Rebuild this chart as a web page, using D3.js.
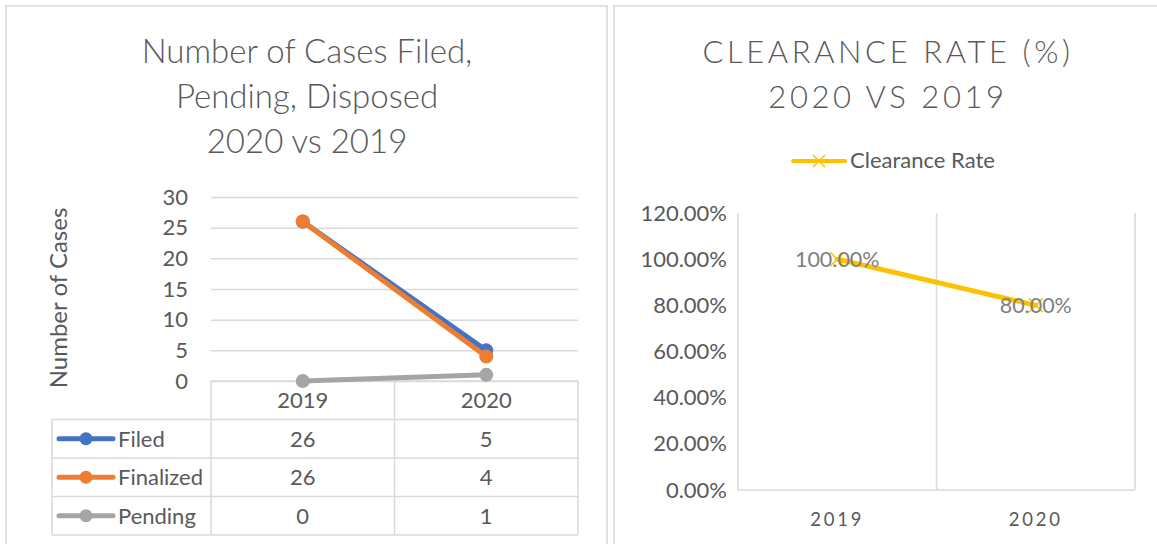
<!DOCTYPE html>
<html>
<head>
<meta charset="utf-8">
<script src="https://d3js.org/d3.v7.min.js"></script>
<style>
  body { margin:0; background:#fff; }
  text { font-family: Lato, "Open Sans", sans-serif; fill:#595959; }
  .title { font-weight:300; }
</style>
</head>
<body>
<svg id="chart"></svg>
<script>
// data
var years = ["2019", "2020"];
var filed = [26, 5];
var finalized = [26, 4];
var pending = [0, 1];
var clearance = [1.00, 0.80];
var caseTicks = [0, 5, 10, 15, 20, 25, 30];
var rateTicks = [0, 0.2, 0.4, 0.6, 0.8, 1.0, 1.2];

var series = [
  {name:"Filed", values:filed, color:"#4472C4"},
  {name:"Finalized", values:finalized, color:"#ED7D31"},
  {name:"Pending", values:pending, color:"#A5A5A5"}
];

var svg = d3.select("#chart").attr("width", 1157).attr("height", 544);
var grid = "#d9d9d9";
var fs = "22px";

// panel frames
svg.append("rect").attr("x",6).attr("y",6).attr("width",601).attr("height",560)
  .attr("fill","none").attr("stroke",grid).attr("stroke-width",1.5);
svg.append("rect").attr("x",614).attr("y",6).attr("width",560).attr("height",560)
  .attr("fill","none").attr("stroke",grid).attr("stroke-width",1.5);

// ---------- left chart ----------
var left = svg.append("g");
var titleL = ["Number of Cases Filed,", "Pending, Disposed", "2020 vs 2019"];
left.selectAll(".tl").data(titleL).enter().append("text")
  .attr("class","title")
  .attr("x",307).attr("y",function(d,i){ return 63 + i*45; })
  .attr("text-anchor","middle").style("font-size","33px")
  .text(function(d){ return d; });

var x1 = d3.scaleBand().domain(years).range([211, 578]);
var y1 = d3.scaleLinear().domain([0, 30]).range([381, 197]);

left.append("g").attr("transform","translate(211,0)")
  .call(d3.axisLeft(y1).tickValues(caseTicks).tickSize(-367).tickFormat(""))
  .call(function(g){
    g.select(".domain").remove();
    g.selectAll("line").attr("stroke",grid).attr("stroke-width",1.5);
  });
left.append("g").attr("transform","translate(188,0)")
  .call(d3.axisLeft(y1).tickValues(caseTicks).tickSize(0).tickPadding(0))
  .call(function(g){
    g.select(".domain").remove();
    g.selectAll("text").style("font-size",fs).style("font-family","Lato").attr("fill","#595959");
  });

left.append("text")
  .attr("transform","translate(67,298) rotate(-90)")
  .attr("text-anchor","middle").style("font-size","24px")
  .text("Number of Cases");

// data table
var rowTop = 381, rowH = 38.5;
var tbl = left.append("g").attr("stroke",grid).attr("stroke-width",1.5).attr("fill","none");
tbl.append("line").attr("x1",211).attr("x2",578).attr("y1",rowTop).attr("y2",rowTop);
for (var r = 1; r <= series.length + 1; r++) {
  tbl.append("line").attr("x1",52).attr("x2",578)
    .attr("y1",rowTop + r*rowH).attr("y2",rowTop + r*rowH);
}
tbl.append("line").attr("x1",52).attr("x2",52).attr("y1",rowTop+rowH).attr("y2",rowTop+(series.length+1)*rowH);
[211, x1("2020"), 578].forEach(function(xv){
  tbl.append("line").attr("x1",xv).attr("x2",xv).attr("y1",rowTop).attr("y2",rowTop+(series.length+1)*rowH);
});

left.selectAll(".cat").data(years).enter().append("text")
  .attr("x",function(d){ return x1(d) + x1.bandwidth()/2; })
  .attr("y",rowTop + rowH/2 + 8).attr("text-anchor","middle")
  .style("font-size",fs).text(function(d){ return d; });

series.forEach(function(s, i){
  var cy = rowTop + (i+1)*rowH + rowH/2;
  left.append("line").attr("x1",59).attr("x2",113).attr("y1",cy).attr("y2",cy)
    .attr("stroke",s.color).attr("stroke-width",5).attr("stroke-linecap","round");
  left.append("circle").attr("cx",86).attr("cy",cy).attr("r",6.5).attr("fill",s.color);
  left.append("text").attr("x",118).attr("y",cy+8).style("font-size",fs).text(s.name);
  s.values.forEach(function(v, j){
    left.append("text").attr("x",x1(years[j]) + x1.bandwidth()/2).attr("y",cy+8)
      .attr("text-anchor","middle").style("font-size",fs).text(v);
  });
});

// lines, drawn so Finalized covers Filed like the original
var lineGen = d3.line()
  .x(function(d,i){ return x1(years[i]) + x1.bandwidth()/2; })
  .y(function(d){ return y1(d); });
[series[2], series[0], series[1]].forEach(function(s){
  left.append("path").datum(s.values).attr("d",lineGen)
    .attr("fill","none").attr("stroke",s.color).attr("stroke-width",5).attr("stroke-linecap","round");
  left.selectAll(null).data(s.values).enter().append("circle")
    .attr("cx",function(d,i){ return x1(years[i]) + x1.bandwidth()/2; })
    .attr("cy",function(d){ return y1(d); })
    .attr("r",7).attr("fill",s.color);
});

// ---------- right chart ----------
var right = svg.append("g");
var titleR = ["CLEARANCE RATE (%)", "2020 VS 2019"];
right.selectAll(".tr").data(titleR).enter().append("text")
  .attr("class","title")
  .attr("x",888).attr("y",function(d,i){ return 63 + i*45; })
  .attr("text-anchor","middle").style("font-size","31px").style("letter-spacing","3.6px")
  .text(function(d){ return d; });

var yellow = "#FFC000";
// legend
right.append("line").attr("x1",793).attr("x2",845).attr("y1",161).attr("y2",161)
  .attr("stroke",yellow).attr("stroke-width",4).attr("stroke-linecap","round");
right.append("path").attr("d","M813,155L825,167M813,167L825,155")
  .attr("stroke",yellow).attr("stroke-width",1.5);
right.append("text").attr("x",850).attr("y",168).style("font-size",fs).text("Clearance Rate");

var x2 = d3.scaleBand().domain(years).range([738, 1135]);
var y2 = d3.scaleLinear().domain([0, 1.2]).range([490, 213]);

// vertical gridlines at category edges
var edges = [738, x2("2020"), 1135];
right.selectAll(".vg").data(edges).enter().append("line")
  .attr("x1",function(d){ return d; }).attr("x2",function(d){ return d; })
  .attr("y1",213).attr("y2",490).attr("stroke",grid).attr("stroke-width",1.5);
right.append("line").attr("x1",738).attr("x2",1135).attr("y1",490).attr("y2",490)
  .attr("stroke",grid).attr("stroke-width",1.5);

right.append("g").attr("transform","translate(727,0)")
  .call(d3.axisLeft(y2).tickValues(rateTicks).tickSize(0).tickPadding(0)
    .tickFormat(function(d){ return (d*100).toFixed(2) + "%"; }))
  .call(function(g){
    g.select(".domain").remove();
    g.selectAll("text").style("font-size",fs).style("font-family","Lato").attr("fill","#595959");
  });

right.append("g").attr("transform","translate(0,490)")
  .call(d3.axisBottom(x2).tickSize(0).tickPadding(23))
  .call(function(g){
    g.select(".domain").remove();
    g.selectAll("text").style("font-size","18.5px").style("font-family","Lato")
      .style("letter-spacing","2.8px").attr("fill","#595959");
  });

var cx2 = function(d,i){ return x2(years[i]) + x2.bandwidth()/2; };
right.append("path").datum(clearance)
  .attr("d", d3.line().x(cx2).y(function(d){ return y2(d); }))
  .attr("fill","none").attr("stroke",yellow).attr("stroke-width",5).attr("stroke-linecap","round");
right.selectAll(".mk").data(clearance).enter().append("path")
  .attr("d",function(d,i){
    var px = cx2(d,i), py = y2(d), s = 7;
    return "M"+(px-s)+","+(py-s)+"L"+(px+s)+","+(py+s)+"M"+(px-s)+","+(py+s)+"L"+(px+s)+","+(py-s);
  })
  .attr("stroke",yellow).attr("stroke-width",1.5);
right.selectAll(".lbl").data(clearance).enter().append("text")
  .attr("x",cx2).attr("y",function(d){ return y2(d) + 8; })
  .attr("text-anchor","middle").style("font-size","21.5px").style("fill","#7f7f7f")
  .text(function(d){ return (d*100).toFixed(2) + "%"; });
</script>
</body>
</html>
